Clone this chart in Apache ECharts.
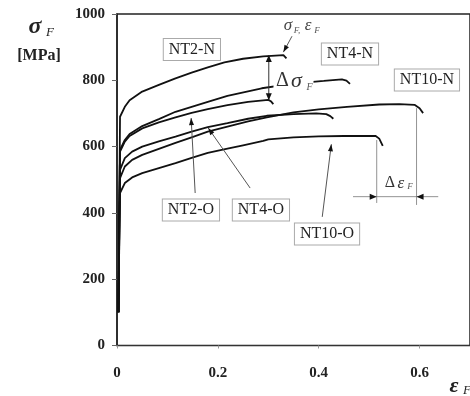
<!DOCTYPE html>
<html>
<head>
<meta charset="utf-8">
<script src="https://cdn.jsdelivr.net/npm/echarts@6/dist/echarts.min.js"></script>
<style>
  html, body { margin: 0; padding: 0; background: #fff; }
  #main { width: 470px; height: 396px; }
</style>
</head>
<body>
<div id="main"></div>
<script>
// true stress - true strain curves, [strain, stress MPa]
const nt2N = [[0.003,100],[0.005,500],[0.006,690],[0.0155,720],[0.025,740],[0.05,766],[0.083,786],[0.116,806],[0.148,823],[0.18,839],[0.213,854],[0.25,865],[0.29,872],[0.33,876],[0.336,866]];
const nt4N = [[0.003,100],[0.005,450],[0.006,590],[0.0155,620],[0.025,638],[0.05,662],[0.083,683],[0.116,705],[0.148,720],[0.18,735],[0.219,753],[0.287,776],[0.35,790],[0.41,798],[0.446,803],[0.455,799],[0.462,789]];
const nt2O = [[0.003,100],[0.005,450],[0.006,585],[0.0155,615],[0.025,632],[0.05,655],[0.083,673],[0.116,688],[0.148,702],[0.18,713],[0.219,725],[0.26,735],[0.3,741],[0.305,737],[0.31,728]];
const nt4O = [[0.003,100],[0.005,420],[0.006,530],[0.0155,565],[0.03,585],[0.05,600],[0.083,616],[0.116,630],[0.148,645],[0.18,659],[0.219,671],[0.26,684],[0.297,693],[0.35,698],[0.395,700],[0.415,698],[0.423,692],[0.429,684]];
const nt10N = [[0.003,100],[0.005,400],[0.006,505],[0.0155,540],[0.03,560],[0.05,575],[0.083,593],[0.116,611],[0.148,628],[0.18,645],[0.219,660],[0.26,676],[0.297,688],[0.35,703],[0.4,712],[0.456,720],[0.52,727],[0.56,728],[0.59,726],[0.6,716],[0.607,701]];
const nt10O = [[0.003,100],[0.005,380],[0.006,460],[0.0155,490],[0.03,507],[0.05,520],[0.083,535],[0.116,550],[0.148,566],[0.18,581],[0.219,594],[0.25,604],[0.29,617],[0.3,622],[0.35,628],[0.4,631],[0.45,632],[0.513,632],[0.52,624],[0.527,602]];

const curves = [nt2N, nt4N, nt2O, nt4O, nt10N, nt10O];

// labels in boxes: name and centre [strain, stress]
const boxNames = ['NT2-N', 'NT4-N', 'NT10-N', 'NT2-O', 'NT4-O', 'NT10-O'];
const boxAt = [[0.1485,893],[0.462,879],[0.6146,801],[0.1466,409],[0.2854,409],[0.4165,336]];

// leader arrows [from, tip]
const leaders = [
  [[0.347,933],[0.33,885]],
  [[0.155,460],[0.147,686]],
  [[0.264,475],[0.181,656]],
  [[0.407,388],[0.425,607]]
];

const font = 'Liberation Serif';
const chart = echarts.init(document.getElementById('main'));

chart.setOption({
  animation: false,
  backgroundColor: '#fff',
  grid: { left: 117, top: 14, right: -7.5, bottom: 50.5, show: true, borderColor: '#222', borderWidth: 1.5 },
  xAxis: {
    type: 'value', min: 0, max: 0.7, interval: 0.2,
    axisLine: { lineStyle: { color: '#333', width: 1.2 } },
    axisTick: { show: true, length: 3, lineStyle: { color: '#999' } },
    axisLabel: { showMaxLabel: false, margin: 20, fontFamily: font, fontWeight: 'bold', fontSize: 15, color: '#222',
      formatter: v => v === 0 ? '0' : v.toFixed(1) },
    splitLine: { show: false }
  },
  yAxis: {
    type: 'value', min: 0, max: 1000, interval: 200,
    axisLine: { show: true, lineStyle: { color: '#222', width: 1.5 } },
    axisTick: { show: true, length: 5, lineStyle: { color: '#666' } },
    axisLabel: { margin: 12, fontFamily: font, fontWeight: 'bold', fontSize: 15, color: '#222',
      formatter: v => String(v) },
    splitLine: { show: false }
  },
  series: curves.map(d => ({
    type: 'line', data: d, showSymbol: false, silent: true,
    lineStyle: { color: '#111', width: 1.8 }
  }))
});

const p = v => chart.convertToPixel({ gridIndex: 0 }, v);
const g = [];

function line(a, b, color, w) {
  g.push({ type: 'line', z: 5, shape: { x1: a[0], y1: a[1], x2: b[0], y2: b[1] }, style: { stroke: color, lineWidth: w } });
}
function head(tip, from, len, w) {
  const dx = tip[0] - from[0], dy = tip[1] - from[1];
  const L = Math.hypot(dx, dy), ux = dx / L, uy = dy / L;
  const bx = tip[0] - ux * len, by = tip[1] - uy * len;
  g.push({ type: 'polygon', z: 6, shape: { points: [tip, [bx + uy * w, by - ux * w], [bx - uy * w, by + ux * w]] }, style: { fill: '#111' } });
}
function txt(x, y, text, size, opts) {
  g.push({ type: 'text', x: x, y: y, z: 8,
    style: Object.assign({ text: text, fontFamily: font, fontSize: size, fill: '#222', align: 'center', verticalAlign: 'middle' }, opts || {}) });
}

// boxed labels
boxNames.forEach((n, i) => {
  const c = p(boxAt[i]);
  txt(c[0], c[1], n, 16, { backgroundColor: '#fff', borderColor: '#aaa', borderWidth: 1, padding: [3, 5, 2, 5] });
});

// leaders
leaders.forEach(l => {
  const a = p(l[0]), b = p(l[1]);
  line(a, b, '#555', 1);
  head(b, a, 7, 2.5);
});

// delta sigma dimension
const s1 = p([0.301, 876]), s2 = p([0.301, 740]);
line(s1, s2, '#333', 1);
head(s1, s2, 7, 3);
head(s2, s1, 7, 3);

// delta epsilon dimension
const e1 = p([0.468, 449]), e2 = p([0.637, 449]);
const ea = p([0.515, 449]), eb = p([0.594, 449]);
line(p([0.515, 620]), p([0.515, 430]), '#777', 0.8);
line(p([0.594, 716]), p([0.594, 424]), '#777', 0.8);
line(e1, e2, '#777', 0.8);
head(ea, e1, 7, 3);
head(eb, e2, 7, 3);

// sigma_F, eps_F
const sf = p([0.365, 964]);
txt(sf[0] - 13, sf[1], 'σ', 17, { fontStyle: 'italic', fill: '#444' });
txt(sf[0] - 4, sf[1] + 5, 'F,', 9, { fontStyle: 'italic', fill: '#555' });
txt(sf[0] + 7, sf[1], 'ε', 17, { fontStyle: 'italic', fill: '#444' });
txt(sf[0] + 16, sf[1] + 5, 'F', 9, { fontStyle: 'italic', fill: '#555' });

// delta sigma label
const ds = p([0.35, 798]);
g.push({ type: 'rect', z: 7, shape: { x: ds[0] - 20, y: ds[1] - 10, width: 40, height: 20 }, style: { fill: '#fff' } });
txt(ds[0] - 11, ds[1], 'Δ', 20, { fill: '#333' });
txt(ds[0] + 3, ds[1], 'σ', 22, { fontStyle: 'italic', fill: '#333' });
txt(ds[0] + 16, ds[1] + 6, 'F', 10, { fontStyle: 'italic', fill: '#555' });

// delta eps label
const de = p([0.557, 490]);
txt(de[0] - 8, de[1], 'Δ', 16, { fill: '#333' });
txt(de[0] + 3, de[1], 'ε', 17, { fontStyle: 'italic', fill: '#333' });
txt(de[0] + 12, de[1] + 4, 'F', 9, { fontStyle: 'italic', fill: '#555' });

// axis titles
txt(35, 27, 'σ', 24, { fontStyle: 'italic', fontWeight: 'bold' });
txt(50, 33, 'F', 13, { fontStyle: 'italic' });
txt(39, 56, '[MPa]', 16, { fontWeight: 'bold' });
txt(454, 386, 'ε', 22, { fontStyle: 'italic', fontWeight: 'bold' });
txt(467, 391, 'F', 13, { fontStyle: 'italic' });

chart.setOption({ graphic: g });
</script>
</body>
</html>
